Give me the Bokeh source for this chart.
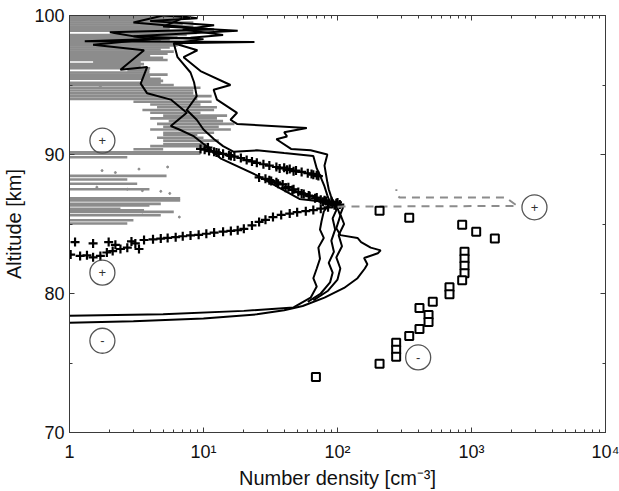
from bokeh.plotting import figure
from bokeh.models import Range1d, FixedTicker, LogAxis, LinearAxis, ColumnDataSource
from bokeh.embed import file_html
from bokeh.resources import INLINE
from bokeh.core.properties import value

# ---------------- data ----------------
x_ticks = [1, 10, 100, 1000, 10000]
x_tick_labels = ["1", "10\u00b9", "10\u00b2", "10\u00b3", "10\u2074"]
y_ticks = [70, 80, 90, 100]
y_minor = [75, 85, 95]

# gray noisy profile, drawn as horizontal segments (alt, low, high)
gray_alt = [85.04, 85.27, 85.63, 85.87, 85.99, 86.1, 86.34, 86.45, 86.7, 86.85,
            87.5, 87.9, 88.2, 88.46, 89.8, 90.05, 90.15,
            90.38, 90.6, 90.75, 91.0, 91.2, 91.4, 91.57, 91.8, 92.0, 92.2,
            92.4, 92.6, 92.8, 93.0, 93.2, 93.4, 93.6, 93.8, 94.0, 94.2,
            94.4, 94.6, 94.8, 95.0, 95.15, 95.3, 95.45, 95.6, 95.75, 95.9,
            96.05, 96.2, 96.35, 96.5, 96.65, 96.8, 96.95, 97.1, 97.25, 97.4,
            97.55, 97.7, 97.85, 98.0, 98.15, 98.3, 98.45, 98.6, 98.75, 98.9,
            99.05, 99.2, 99.35, 99.5, 99.65, 99.8, 99.95]
gray_lo = [0.5, 0.5, 0.5, 0.5, 0.5, 0.5, 0.5, 0.5, 0.5, 0.5,
           0.5, 0.5, 0.5, 0.5, 0.5, 0.5, 0.5,
           3.0, 4.0, 5.0, 5.0, 4.5, 5.0, 5.0, 4.0, 5.0, 4.5,
           5.5, 4.0, 5.0, 4.0, 3.5, 4.5, 4.0, 3.0, 0.5, 0.5,
           0.5, 0.5, 0.5, 0.5, 0.5, 3.5, 0.5, 0.5, 0.5, 0.5,
           2.7, 0.5, 0.5, 0.5, 1.5, 0.5, 0.5, 0.5, 0.5, 0.5,
           0.5, 0.5, 0.5, 0.5, 0.5, 0.5, 0.5, 0.5, 2.4, 0.5,
           0.5, 0.5, 0.5, 0.5, 0.5, 0.5, 0.5]
gray_hi = [2.7, 3.0, 4.8, 6.0, 3.6, 2.4, 3.95, 4.8, 6.7, 6.7,
           3.95, 3.2, 2.7, 5.3, 2.7, 9.5, 9.5,
           5.0, 10.0, 11.0, 13.0, 10.0, 9.0, 12.0, 16.0, 13.0, 17.0,
           14.0, 12.6, 15.0, 9.5, 12.0, 12.6, 9.5, 11.5, 9.0, 11.5,
           8.4, 8.4, 9.5, 6.0, 4.8, 5.0, 4.8, 4.0, 5.4, 3.95,
           3.95, 4.0, 3.4, 3.6, 3.4, 5.4, 5.0, 4.0, 5.4, 6.0,
           4.8, 5.6, 6.4, 7.0, 4.8, 5.6, 6.4, 7.5, 8.9, 8.9,
           5.6, 8.4, 7.0, 8.4, 6.4, 8.0, 6.0]

# small gray dots
dot_dens = [1.75, 2.2, 5.4, 1.6, 2.7, 3.5, 4.8, 5.6, 2.1, 3.5, 1.7, 3.3, 6.6]
dot_alt = [88.84, 88.7, 89.1, 87.65, 87.5, 87.4, 87.35, 87.2, 86.8, 85.87, 94.9, 88.95, 85.5]

# black profiles
dens_a = [1.0, 3, 10, 25, 40, 55, 80, 112, 141, 160, 167, 158, 200, 210, 177, 150, 141, 105, 98, 105,
          98, 92, 89, 86, 84, 80, 84, 63, 45, 35, 42, 40, 59, 17.8, 15.9, 17.8, 12.6, 11.9, 15.9, 9.5,
          7.1, 9, 6, 24, 1.3, 8, 14, 7, 12, 4, 9, 6]
alt_a = [77.9, 78.0, 78.2, 78.5, 78.8, 79.1, 79.7, 80.4, 81.1, 81.8, 82.1, 82.55, 82.9, 83.1, 83.3, 83.7, 84.0, 84.2, 84.7, 85.6,
         86.35, 86.7, 87.06, 87.5, 88.0, 89.2, 90.0, 90.3, 90.4, 91.1, 91.3, 91.6, 91.9, 92.2, 92.5, 93.0, 93.95, 94.66, 95.0, 96.0,
         97.0, 97.5, 98.0, 98.1, 98.15, 98.4, 98.6, 99.0, 99.3, 99.6, 99.8, 100.0]

dens_b = [1.0, 5, 20, 47, 63, 70, 66, 70, 74, 72, 79, 74, 76, 79, 88, 84, 80, 74, 70, 66,
          40, 25, 16.7, 14, 12, 10, 8.9, 7.5, 8.9, 8.5, 8, 6.4, 6, 10, 3, 18, 5, 7.4, 5]
alt_b = [78.4, 78.5, 78.75, 79.0, 79.7, 80.5, 81.1, 81.8, 82.5, 83.3, 84.0, 84.6, 85.2, 85.9, 86.5, 87.06, 87.7, 88.5, 89.0, 89.9,
         90.1, 90.3, 90.2, 90.6, 91.1, 91.8, 92.5, 93.2, 94.2, 95.2, 95.9, 97.0, 98.0, 98.3, 98.5, 98.9, 99.2, 99.9, 100.0]

dens_c = [60, 75, 88, 92, 86, 94, 90, 96, 92, 98, 94, 79, 52, 25, 13.5, 11.2, 8.5, 6.6, 5.7, 7.5,
          5.7, 3.8, 3.4, 3.8, 2.4, 3.6, 1.5, 4, 2, 12, 3, 5]
alt_c = [79.4, 80.0, 80.8, 81.5, 82.2, 83.0, 83.8, 84.6, 85.4, 86.0, 86.5, 86.6, 86.8, 88.5, 89.7, 90.4, 91.3, 91.8, 92.05, 93.0,
         93.95, 94.4, 95.1, 96.3, 96.1, 97.5, 97.9, 98.3, 98.8, 99.0, 99.5, 100.0]

dens_d = [66, 85, 100, 105, 98, 108, 102, 112, 105, 110, 95]
alt_d = [79.5, 80.2, 81.0, 81.8, 82.6, 83.4, 84.2, 85.0, 85.7, 86.2, 86.6]

# plus-marker profile
plus_dens = [9.5, 10.2, 11, 12, 13, 14, 15.5, 17, 19, 21, 23, 25, 28, 31, 35, 40, 44, 49, 54, 60, 66, 72,
             26, 29, 32, 35, 39, 43, 47, 51, 56, 62, 68, 75, 82, 90, 98,
             95, 85, 75, 66, 58, 50, 44, 38, 33, 29, 26, 23, 20, 18, 16, 14, 12, 10.5, 9.2, 8, 7, 6.2, 5.4,
             4.8, 4.2, 3.6, 3.1, 2.7, 2.4, 2.1, 1.9, 1.96, 1.7, 1.5, 1.5, 1.35, 1.2, 1.1, 1.02, 2.2, 2.9, 3.3,
             10.8, 12.5, 16, 37, 42, 47, 64, 70, 78, 86, 92, 100, 104, 80, 70, 61, 54, 46, 41, 36, 31]
plus_alt = [90.4, 90.35, 90.25, 90.2, 90.1, 90.05, 89.95, 89.85, 89.75, 89.6, 89.5, 89.4, 89.3, 89.2, 89.1, 89.05, 88.95, 88.85, 88.75, 88.65, 88.55, 88.45,
            88.35, 88.25, 88.1, 88.0, 87.85, 87.65, 87.5, 87.3, 87.15, 87.0, 86.85, 86.75, 86.65, 86.6, 86.5,
            86.35, 86.2, 86.1, 86.0, 85.92, 85.85, 85.75, 85.65, 85.5, 85.3, 85.15, 84.9, 84.65, 84.55, 84.5, 84.45, 84.38, 84.3, 84.22, 84.18, 84.12, 84.05, 84.0,
            83.95, 83.9, 83.85, 83.6, 83.3, 83.2, 83.05, 82.95, 83.7, 82.7, 83.6, 82.6, 82.75, 82.7, 83.7, 82.8, 83.5, 83.75, 83.2,
            90.5, 90.15, 89.9, 89.0, 88.9, 88.8, 88.6, 88.5, 86.6, 86.5, 86.45, 86.55, 86.4, 86.7, 86.9, 87.05, 87.2, 87.45, 87.6, 87.9, 88.15]

# square-marker profile
sq_dens = [206, 343, 852, 1084, 1493, 887, 887, 887, 887, 852, 685, 685, 514, 409, 478, 478, 409, 343, 274, 274, 274, 206, 69]
sq_alt = [85.95, 85.45, 84.95, 84.45, 83.95, 83.0, 82.5, 82.0, 81.45, 80.95, 80.45, 79.95, 79.4, 78.95, 78.45, 77.95,
          77.45, 76.95, 76.45, 75.95, 75.45, 74.95, 74.0]

# gray dashed profile
dash_dens = [100, 2200, 1800, 290, 275, 275]
dash_alt = [86.25, 86.3, 86.9, 86.9, 87.2, 87.5]

# circled labels
lab_dens = [1.76, 1.76, 1.76, 2950, 400]
lab_alt = [91.0, 81.5, 76.6, 86.2, 75.4]
lab_text = ["+", "+", "-", "+", "-"]

# ---------------- figure ----------------
FONT = "Liberation Sans"
AX = "#3a3a3a"

p = figure(width=619, height=491, x_axis_type="log",
           x_range=Range1d(1, 10000), y_range=Range1d(70, 100),
           output_backend="svg", toolbar_location=None,
           min_border_left=69, min_border_right=14, min_border_top=15, min_border_bottom=55)
p.xgrid.visible = False
p.ygrid.visible = False
p.outline_line_color = AX
p.background_fill_color = "white"
p.border_fill_color = "white"

minor_x = [m * d for d in (1, 10, 100, 1000) for m in range(2, 10)]
xt = FixedTicker(ticks=x_ticks, minor_ticks=minor_x)
yt = FixedTicker(ticks=y_ticks, minor_ticks=y_minor)

def style(ax, labels=True):
    ax.axis_line_color = AX
    ax.major_tick_line_color = AX
    ax.minor_tick_line_color = AX
    ax.major_tick_in = 5
    ax.major_tick_out = 0
    ax.minor_tick_in = 3
    ax.minor_tick_out = 0
    ax.major_label_text_font = FONT
    ax.major_label_text_color = "#111111"
    ax.axis_label_text_font = FONT
    ax.axis_label_text_font_style = "normal"
    ax.axis_label_text_color = "#111111"
    if not labels:
        ax.major_label_text_font_size = "1px"
        ax.major_label_text_alpha = 0.0
        ax.major_label_standoff = 0

xa = p.xaxis[0]
xa.ticker = xt
style(xa)
xa.major_label_overrides = {t: l for t, l in zip(x_ticks, x_tick_labels)}
xa.major_label_text_font_size = "18px"
xa.major_label_standoff = 9
xa.axis_label = "Number density [cm\u207b\u00b3]"
xa.axis_label_text_font_size = "20px"
xa.axis_label_standoff = 2

ya = p.yaxis[0]
ya.ticker = yt
style(ya)
ya.major_label_text_font_size = "18px"
ya.major_label_standoff = 5
ya.axis_label = "Altitude [km]"
ya.axis_label_text_font_size = "20px"
ya.axis_label_standoff = 6

top = LogAxis(ticker=xt)
style(top, labels=False)
p.add_layout(top, "above")
right = LinearAxis(ticker=yt)
style(right, labels=False)
p.add_layout(right, "right")

# gray noisy profile
p.segment(x0="lo", x1="hi", y0="alt", y1="alt",
          source=ColumnDataSource(dict(lo=gray_lo, hi=gray_hi, alt=gray_alt)),
          line_color="#8c8c8c", line_width=2.6)
p.scatter(dot_dens, dot_alt, size=2, color="#8c8c8c")

# black profiles
for xs, ys in ((dens_a, alt_a), (dens_b, alt_b), (dens_c, alt_c), (dens_d, alt_d)):
    p.line(xs, ys, line_color="black", line_width=2)

# plus markers
p.scatter(plus_dens, plus_alt, marker="cross", size=9, line_color="black", line_width=2.2)

# gray dashed
p.line(dash_dens, dash_alt, line_color="#8c8c8c", line_width=2, line_dash="8 6")

# squares
p.scatter(sq_dens, sq_alt, marker="square", size=8, line_color="black", line_width=2, fill_color="white")

# circled labels
p.scatter(lab_dens, lab_alt, marker="circle", size=25, line_color="#555555", line_width=1.3, fill_color=None)
p.text(lab_dens, lab_alt, text=lab_text, text_align="center", text_baseline="middle",
       text_font=value(FONT), text_font_size="13px", text_color="#333333")

open("out.html", "w").write(file_html(p, INLINE))
